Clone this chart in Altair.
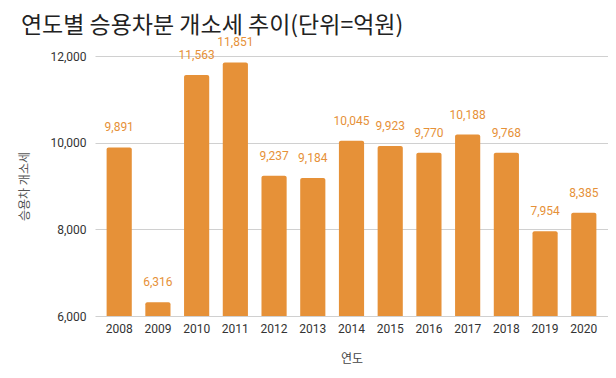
import altair as alt
import pandas as pd

years = ["2008", "2009", "2010", "2011", "2012", "2013", "2014", "2015", "2016", "2017", "2018", "2019", "2020"]
values = [9891, 6316, 11563, 11851, 9237, 9184, 10045, 9923, 9770, 10188, 9768, 7954, 8385]

df = pd.DataFrame({"연도": years, "값": values})

FONT = "Roboto, Noto Sans CJK KR, sans-serif"
KFONT = "Noto Sans CJK KR, sans-serif"
ORANGE = "#E69138"

x = alt.X("연도:N", sort=years,
          scale=alt.Scale(paddingInner=0.35, paddingOuter=0.3),
          axis=alt.Axis(title="연도", labelAngle=0, ticks=False, domain=False,
                        labelFont=FONT, labelFontSize=12, labelColor="#333",
                        labelPadding=7, titleFont=KFONT, titleFontSize=12,
                        titleFontWeight="normal", titleColor="#444", titlePadding=19))
y = alt.Y("값:Q", scale=alt.Scale(domain=[6000, 12000], nice=False, zero=False),
          axis=alt.Axis(title="승용차 개소세", values=[6000, 8000, 10000, 12000], format=",.0f",
                        ticks=False, domain=False, gridColor="#d0d0d0",
                        labelFont=FONT, labelFontSize=12, labelColor="#333", labelPadding=9,
                        titleFont=KFONT, titleFontSize=12, titleFontWeight="normal",
                        titleColor="#555", titlePadding=18))

bars = alt.Chart(df).mark_bar(color=ORANGE, cornerRadiusTopLeft=2, cornerRadiusTopRight=2).encode(
    x=x, y=y, y2=alt.datum(6000))
labels = alt.Chart(df).mark_text(color=ORANGE, font=FONT, fontSize=12, baseline="bottom", dy=-13).encode(
    x=alt.X("연도:N", sort=years), y=alt.Y("값:Q"), text=alt.Text("값:Q", format=",.0f"))

chart = (bars + labels).properties(
    width=513, height=260,
    autosize=alt.AutoSizeParams(type="none"),
    padding={"left": 87, "top": 48, "right": 0, "bottom": 50},
    title=alt.TitleParams("연도별 승용차분 개소세 추이(단위=억원)", anchor="start", font=KFONT,
                          fontSize=23, fontWeight="normal", color="#222", offset=-2, dx=2),
).configure_view(stroke=None)

chart.save("out.html", embed_options={"renderer": "svg", "actions": False})
